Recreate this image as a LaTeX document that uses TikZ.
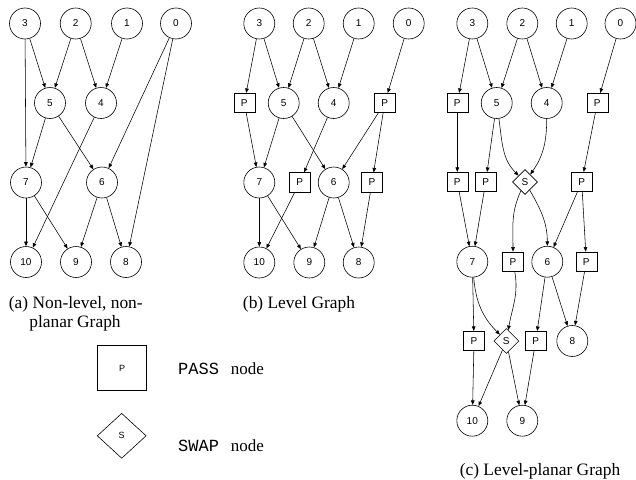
\documentclass[tikz,border=0pt]{standalone}
\usepackage{fontspec}
\setmainfont{Liberation Serif}
\setsansfont{Liberation Sans}
\setmonofont{Liberation Mono}
\usetikzlibrary{shapes.geometric,arrows.meta}

\tikzset{
  vtx/.style={circle, draw, line width=0.6pt, minimum size=31pt, inner sep=0pt,
    font=\sffamily\fontsize{10}{12}\selectfont},
  passbox/.style={rectangle, draw, line width=0.6pt, minimum width=21pt,
    minimum height=19.5pt, inner sep=0pt, font=\sffamily\fontsize{10}{12}\selectfont},
  swapbox/.style={diamond, draw, line width=0.6pt, minimum width=25pt,
    minimum height=25pt, inner sep=0pt, font=\sffamily\fontsize{10}{12}\selectfont},
  arr/.style={-{Triangle[length=4.5pt,width=3.6pt]}, line width=0.55pt},
  captxt/.style={anchor=base, inner sep=0pt, font=\fontsize{17.4}{20}\selectfont},
  legtxt/.style={anchor=base west, inner sep=0pt, font=\fontsize{17}{20}\selectfont},
}

\begin{document}
\begin{tikzpicture}[x=1pt, y=-1pt]
\useasboundingbox (0,0) rectangle (636,479);

% ---------- (a) non-level, non-planar graph ----------
\node[vtx] (a3)  at (25,23.5)   {3};
\node[vtx] (a2)  at (75.7,23.5) {2};
\node[vtx] (a1)  at (127,23.5)  {1};
\node[vtx] (a0)  at (176,23.5)  {0};
\node[vtx] (a5)  at (50,103)    {5};
\node[vtx] (a4)  at (101,103)   {4};
\node[vtx] (a7)  at (26,182.5)  {7};
\node[vtx] (a6)  at (102,182.5) {6};
\node[vtx] (a10) at (26,262)    {10};
\node[vtx] (a9)  at (76,262)    {9};
\node[vtx] (a8)  at (126,262)   {8};

\draw[arr] (a3) -- (a5);
\draw[arr] (a3) -- (a7);
\draw[arr] (a2) -- (a5);
\draw[arr] (a2) -- (a4);
\draw[arr] (a1) -- (a4);
\draw[arr] (a0) -- (a6);
\draw[arr] (a0) -- (a8);
\draw[arr] (a5) -- (a7);
\draw[arr] (a5) -- (a6);
\draw[arr] (a4) -- (a10);
\draw[arr] (a7) -- (a10);
\draw[arr] (a7) -- (a9);
\draw[arr] (a6) -- (a9);
\draw[arr] (a6) -- (a8);

\node[captxt] (capa1) at (75.8,308)   {(a) Non-level, non-};
\node[captxt] (capa2) at (75,327) {planar Graph};

% ---------- (b) level graph ----------
\node[vtx] (b3)  at (259.3,23.5) {3};
\node[vtx] (b2)  at (308.7,23.5) {2};
\node[vtx] (b1)  at (358.7,23.5) {1};
\node[vtx] (b0)  at (408.7,23.5) {0};
\node[passbox] (bp1) at (244.3,103) {P};
\node[vtx] (b5)  at (283.7,103)  {5};
\node[vtx] (b4)  at (333.7,103)  {4};
\node[passbox] (bp2) at (384.7,103) {P};
\node[vtx] (b7)  at (259.3,182.5) {7};
\node[passbox] (bp3) at (299.7,182.5) {P};
\node[vtx] (b6)  at (333.7,182.5) {6};
\node[passbox] (bp4) at (372,182.5) {P};
\node[vtx] (b10) at (259.3,262.5) {10};
\node[vtx] (b9)  at (309.3,262.5) {9};
\node[vtx] (b8)  at (358.7,262.5) {8};

\draw[arr] (b3) -- (bp1);
\draw[arr] (b3) -- (b5);
\draw[arr] (b2) -- (b5);
\draw[arr] (b2) -- (b4);
\draw[arr] (b1) -- (b4);
\draw[arr] (b0) -- (bp2);
\draw[arr] (bp1) -- (b7);
\draw[arr] (b5) -- (b7);
\draw[arr] (b5) -- (b6);
\draw[arr] (b4) -- (bp3);
\draw[arr] (bp2) -- (b6);
\draw[arr] (bp2) -- (bp4);
\draw[arr] (bp3) -- (b10);
\draw[arr] (b7) -- (b10);
\draw[arr] (b7) -- (b9);
\draw[arr] (b6) -- (b9);
\draw[arr] (b6) -- (b8);
\draw[arr] (bp4) -- (b8);

\node[captxt] (capb) at (299,308) {(b) Level Graph};

% ---------- (c) level-planar graph ----------
\node[vtx] (c3)  at (472.3,23.5) {3};
\node[vtx] (c2)  at (522.3,23.5) {2};
\node[vtx] (c1)  at (571.7,23.5) {1};
\node[vtx] (c0)  at (620.5,23.5) {0};
\node[passbox] (cp1) at (457.3,103) {P};
\node[vtx] (c5)  at (496.7,103)  {5};
\node[vtx] (c4)  at (546.7,103)  {4};
\node[passbox] (cp2) at (597.3,103) {P};
\node[passbox] (cp3) at (457.3,182) {P};
\node[passbox] (cp4) at (485.7,182) {P};
\node[swapbox] (cs1) at (525,182) {S};
\node[passbox] (cp5) at (581.7,182) {P};
\node[vtx] (c7)  at (472.3,261.7) {7};
\node[passbox] (cp6) at (513,261.7) {P};
\node[vtx] (c6)  at (547.3,261.7) {6};
\node[passbox] (cp7) at (586.3,261.7) {P};
\node[passbox] (cp8) at (474,341) {P};
\node[swapbox] (cs2) at (506.3,341) {S};
\node[passbox] (cp9) at (535.7,341) {P};
\node[vtx] (c8)  at (572.3,341) {8};
\node[vtx] (c10) at (472.3,420.7) {10};
\node[vtx] (c9)  at (522.3,420.7) {9};

\draw[arr] (c3) -- (cp1);
\draw[arr] (c3) -- (c5);
\draw[arr] (c2) -- (c5);
\draw[arr] (c2) -- (c4);
\draw[arr] (c1) -- (c4);
\draw[arr] (c0) -- (cp2);
\draw[arr] (cp1) -- (cp3);
\draw[arr] (c5) -- (cp4);
\draw[arr] (c5) to[out=-82, in=135] (cs1);
\draw[arr] (c4) to[out=-90, in=55] (cs1);
\draw[arr] (cp2) -- (cp5);
\draw[arr] (cp3) -- (c7);
\draw[arr] (cp4) -- (c7);
\draw[arr] (cs1) to[out=-115, in=90] (cp6);
\draw[arr] (cs1) to[out=-60, in=90] (c6);
\draw[arr] (cp5) -- (c6);
\draw[arr] (cp5) -- (cp7);
\draw[arr] (c7) -- (cp8);
\draw[arr] (c7) to[out=-85, in=135] (cs2);
\draw[arr] (cp6) to[out=-80, in=80] (cs2);
\draw[arr] (c6) -- (cp9);
\draw[arr] (c6) -- (c8);
\draw[arr] (cp7) -- (c8);
\draw[arr] (cp8) -- (c10);
\draw[arr] (cs2) -- (c10);
\draw[arr] (cs2) -- (c9);
\draw[arr] (cp9) -- (c9);

\node[captxt] (capc) at (540,475) {(c) Level-planar Graph};

% ---------- legend ----------
\node[rectangle, draw, line width=0.6pt, minimum width=49pt, minimum height=45pt,
  inner sep=0pt, font=\sffamily\fontsize{9}{11}\selectfont] (legp) at (122,368) {P};
\node[diamond, draw, line width=0.6pt, minimum width=49pt, minimum height=45pt,
  inner sep=0pt, font=\sffamily\fontsize{9}{11}\selectfont] (legs) at (121.7,435.8) {S};
\node[legtxt] (legptxt) at (178,374)   {\texttt{PASS}\hspace{0.7em}node};
\node[legtxt] (legstxt) at (178,451.7) {\texttt{SWAP}\hspace{0.7em}node};
\end{tikzpicture}
\end{document}
